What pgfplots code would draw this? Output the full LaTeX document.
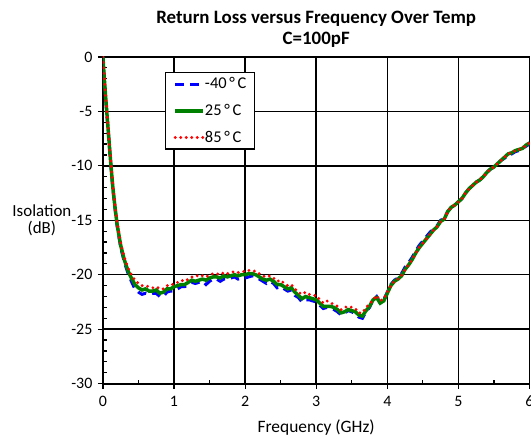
\documentclass[border=0pt]{standalone}
\usepackage{fontspec}
\setmainfont{Carlito}
\usepackage{pgfplots}
\pgfplotsset{compat=1.18}

% Return loss vs frequency, three temperatures
\pgfplotstableread{
f db
0.00 0.0
0.02 -2.1
0.04 -3.9
0.06 -5.6
0.08 -7.3
0.10 -9.0
0.12 -10.6
0.14 -12.1
0.17 -13.9
0.20 -15.5
0.25 -17.5
0.30 -18.8
0.35 -19.8
0.40 -20.6
0.45 -21.3
0.50 -21.6
0.55 -21.8
0.60 -21.7
0.65 -21.8
0.70 -21.7
0.75 -21.7
0.80 -22.0
0.85 -22.0
0.90 -21.6
0.95 -21.5
1.00 -21.5
1.05 -21.3
1.10 -21.1
1.15 -21.1
1.20 -20.9
1.25 -20.7
1.30 -20.8
1.35 -20.7
1.40 -20.6
1.45 -20.9
1.50 -20.6
1.55 -20.4
1.60 -20.4
1.65 -20.6
1.70 -20.4
1.75 -20.4
1.80 -20.3
1.85 -20.2
1.90 -20.4
1.95 -20.3
2.00 -20.3
2.05 -20.2
2.10 -20.1
2.15 -20.2
2.20 -20.4
2.25 -20.6
2.30 -20.8
2.35 -20.6
2.40 -20.8
2.45 -21.2
2.50 -21.1
2.55 -21.3
2.60 -21.5
2.65 -21.4
2.70 -21.9
2.75 -22.1
2.80 -22.5
2.85 -22.3
2.90 -22.3
2.95 -22.4
3.00 -22.5
3.05 -22.8
3.10 -23.1
3.15 -23.0
3.20 -23.1
3.25 -23.2
3.30 -23.4
3.35 -23.7
3.40 -23.5
3.45 -23.3
3.50 -23.4
3.55 -23.6
3.60 -23.9
3.65 -24.0
3.70 -23.4
3.75 -23.0
3.80 -22.3
3.85 -22.0
3.90 -22.6
3.95 -22.3
4.00 -21.6
4.05 -20.9
4.10 -20.5
4.15 -20.3
4.20 -19.9
4.25 -19.3
4.30 -18.9
4.35 -18.4
4.40 -17.8
4.45 -17.3
4.50 -16.9
4.55 -16.5
4.60 -16.1
4.65 -15.8
4.70 -15.5
4.75 -15.0
4.80 -14.8
4.85 -14.2
4.90 -13.8
4.95 -13.6
5.00 -13.3
5.05 -13.0
5.10 -12.5
5.15 -12.1
5.20 -11.8
5.25 -11.5
5.30 -11.3
5.35 -11.0
5.40 -10.6
5.45 -10.3
5.50 -10.1
5.55 -9.8
5.60 -9.5
5.65 -9.3
5.70 -9.0
5.75 -8.9
5.80 -8.7
5.85 -8.6
5.90 -8.4
5.95 -8.2
6.00 -8.0
}\tcold

\pgfplotstableread{
f db
0.00 0.0
0.02 -2.0
0.04 -3.8
0.06 -5.5
0.08 -7.2
0.10 -8.9
0.12 -10.5
0.14 -12.0
0.17 -13.8
0.20 -15.4
0.25 -17.3
0.30 -18.6
0.35 -19.6
0.40 -20.3
0.45 -20.9
0.50 -21.2
0.55 -21.4
0.60 -21.3
0.65 -21.5
0.70 -21.5
0.75 -21.4
0.80 -21.7
0.85 -21.6
0.90 -21.3
0.95 -21.3
1.00 -21.1
1.05 -21.0
1.10 -20.9
1.15 -20.9
1.20 -20.7
1.25 -20.5
1.30 -20.6
1.35 -20.5
1.40 -20.4
1.45 -20.5
1.50 -20.3
1.55 -20.2
1.60 -20.2
1.65 -20.3
1.70 -20.1
1.75 -20.2
1.80 -20.1
1.85 -20.0
1.90 -20.1
1.95 -20.0
2.00 -20.0
2.05 -19.9
2.10 -19.9
2.15 -20.0
2.20 -20.2
2.25 -20.4
2.30 -20.5
2.35 -20.4
2.40 -20.6
2.45 -20.9
2.50 -20.9
2.55 -21.1
2.60 -21.3
2.65 -21.2
2.70 -21.6
2.75 -21.9
2.80 -22.2
2.85 -22.0
2.90 -22.1
2.95 -22.2
3.00 -22.3
3.05 -22.6
3.10 -22.9
3.15 -22.9
3.20 -22.9
3.25 -23.0
3.30 -23.2
3.35 -23.5
3.40 -23.4
3.45 -23.2
3.50 -23.3
3.55 -23.4
3.60 -23.7
3.65 -23.8
3.70 -23.3
3.75 -22.9
3.80 -22.3
3.85 -22.1
3.90 -22.6
3.95 -22.4
4.00 -21.7
4.05 -21.0
4.10 -20.6
4.15 -20.4
4.20 -20.1
4.25 -19.5
4.30 -19.1
4.35 -18.6
4.40 -18.0
4.45 -17.5
4.50 -17.1
4.55 -16.7
4.60 -16.3
4.65 -15.9
4.70 -15.6
4.75 -15.1
4.80 -14.9
4.85 -14.2
4.90 -13.8
4.95 -13.6
5.00 -13.3
5.05 -13.0
5.10 -12.5
5.15 -12.1
5.20 -11.8
5.25 -11.5
5.30 -11.3
5.35 -11.0
5.40 -10.6
5.45 -10.3
5.50 -10.1
5.55 -9.8
5.60 -9.5
5.65 -9.2
5.70 -8.9
5.75 -8.8
5.80 -8.6
5.85 -8.5
5.90 -8.4
5.95 -8.1
6.00 -7.9
}\troom

\pgfplotstableread{
f db
0.00 0.0
0.02 -1.9
0.04 -3.7
0.06 -5.4
0.08 -7.0
0.10 -8.7
0.12 -10.3
0.14 -11.8
0.17 -13.6
0.20 -15.2
0.25 -17.1
0.30 -18.4
0.35 -19.3
0.40 -20.0
0.45 -20.5
0.50 -20.8
0.55 -21.0
0.60 -21.0
0.65 -21.1
0.70 -21.2
0.75 -21.1
0.80 -21.3
0.85 -21.3
0.90 -21.0
0.95 -21.0
1.00 -20.8
1.05 -20.7
1.10 -20.5
1.15 -20.6
1.20 -20.4
1.25 -20.2
1.30 -20.2
1.35 -20.0
1.40 -20.1
1.45 -20.2
1.50 -20.0
1.55 -19.9
1.60 -19.9
1.65 -20.0
1.70 -19.8
1.75 -19.9
1.80 -19.8
1.85 -19.7
1.90 -19.8
1.95 -19.7
2.00 -19.7
2.05 -19.6
2.10 -19.6
2.15 -19.7
2.20 -19.9
2.25 -20.1
2.30 -20.2
2.35 -20.1
2.40 -20.3
2.45 -20.6
2.50 -20.5
2.55 -20.8
2.60 -21.0
2.65 -20.9
2.70 -21.3
2.75 -21.6
2.80 -21.8
2.85 -21.6
2.90 -21.8
2.95 -21.9
3.00 -21.9
3.05 -22.3
3.10 -22.6
3.15 -22.4
3.20 -22.6
3.25 -22.7
3.30 -22.9
3.35 -23.2
3.40 -23.0
3.45 -22.9
3.50 -23.0
3.55 -23.1
3.60 -23.5
3.65 -23.5
3.70 -23.0
3.75 -22.7
3.80 -22.3
3.85 -21.9
3.90 -22.4
3.95 -22.2
4.00 -21.6
4.05 -21.0
4.10 -20.6
4.15 -20.4
4.20 -20.1
4.25 -19.5
4.30 -19.1
4.35 -18.6
4.40 -18.0
4.45 -17.5
4.50 -17.1
4.55 -16.7
4.60 -16.3
4.65 -15.9
4.70 -15.6
4.75 -15.1
4.80 -14.9
4.85 -14.2
4.90 -13.8
4.95 -13.6
5.00 -13.3
5.05 -13.0
5.10 -12.5
5.15 -12.1
5.20 -11.8
5.25 -11.5
5.30 -11.3
5.35 -11.0
5.40 -10.6
5.45 -10.3
5.50 -10.1
5.55 -9.8
5.60 -9.5
5.65 -9.2
5.70 -8.9
5.75 -8.8
5.80 -8.6
5.85 -8.5
5.90 -8.4
5.95 -8.1
6.00 -7.9
}\thot

\definecolor{cblue}{RGB}{0,0,255}
\definecolor{cgreen}{RGB}{0,128,0}
\definecolor{cred}{RGB}{255,0,0}

\begin{document}
\begin{tikzpicture}
\begin{axis}[
    scale only axis,
    width=427bp, height=327bp,
    xmin=0, xmax=6, ymin=-30, ymax=0,
    xtick={0,...,6}, ytick={-30,-25,...,0},
    minor x tick num=1, minor y tick num=4,
    xtick pos=left, ytick pos=left,
    tick align=outside,
    major tick length=5bp, minor tick length=4bp,
    minor x tick style={yshift=4bp},
    minor y tick style={xshift=4bp},
    every tick/.style={black, line width=1.2bp},
    axis line style={line width=1.8bp},
    grid=major,
    major grid style={black, line width=1.5bp},
    /pgf/number format/assume math mode=true,
    tick label style={font=\fontsize{16}{18}\selectfont},
    xticklabel style={yshift=-4bp},
    yticklabel style={xshift=-2bp},
    title={Return Loss versus Frequency Over Temp\\C=100pF},
    title style={font=\bfseries\fontsize{19}{21}\selectfont, align=center, yshift=0bp},
    xlabel={Frequency (GHz)},
    xlabel style={font=\fontsize{17.5}{19}\selectfont, yshift=-6bp},
    ylabel={Isolation\\(dB)},
    every axis y label/.style={at={(axis description cs:-0.143,0.5)}, anchor=center,
        align=center, font=\fontsize{17}{18}\selectfont},
    legend style={at={(axis description cs:0.145,0.954)}, anchor=north west,
        draw=black, line width=1.5bp, font=\fontsize{16.5}{19}\selectfont,
        inner xsep=8bp, inner ysep=3bp, row sep=10bp,
        nodes={inner xsep=0bp}},
    legend cell align=left,
    legend image code/.code={\draw[#1] (0bp,0bp) -- (28bp,0bp);},
]
\addplot[cblue, line width=3bp, dash pattern=on 9bp off 6bp] table[x=f, y=db] {\tcold};
\addplot[cgreen, line width=3.5bp] table[x=f, y=db] {\troom};
\addplot[cred, line width=3.2bp, line cap=round, dash pattern=on 0bp off 5.5bp] table[x=f, y=db] {\thot};
\legend{-40\,°\,C, 25\,°\,C, 85\,°\,C}
\end{axis}
\pgfresetboundingbox
\path[use as bounding box] ([shift={(-103bp,-55bp)}]current axis.south west)
    rectangle ([shift={(1.5bp,57bp)}]current axis.north east);
\end{tikzpicture}
\end{document}
